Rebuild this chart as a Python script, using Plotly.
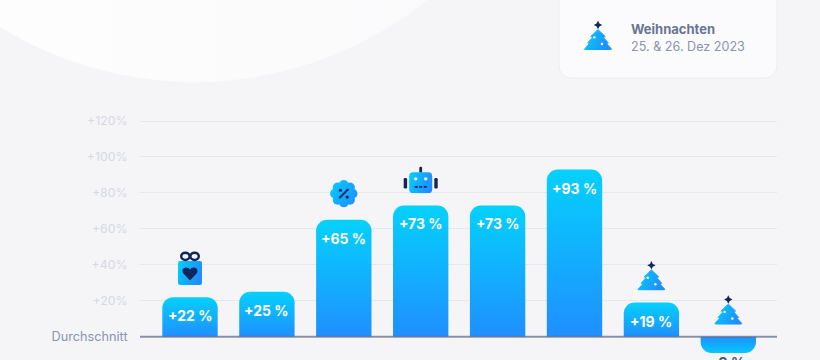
import base64
import plotly.graph_objects as go

categories = ["A", "B", "C", "D", "E", "F", "G", "H"]
values = [22, 25, 65, 73, 73, 93, 19, -9]
labels = ["+22 %", "+25 %", "+65 %", "+73 %", "+73 %", "+93 %", "+19 %", "-9 %"]
icons = ["gift", None, "badge", "robot", None, None, "tree", "tree"]
tick_vals = [0, 20, 40, 60, 80, 100, 120]
tick_text = ["<span style='color:#8b93ae;font-size:12.7px'>Durchschnitt</span>", "+20%", "+40%", "+60%", "+80%", "+100%", "+120%"]
card_title = "Weihnachten"
card_sub = "25. & 26. Dez 2023"

BG = "#f5f5f8"
NAVY = "#13265c"
GRAD = ('<defs><linearGradient id="g" x1="0" y1="0" x2="1" y2="0.35">'
        '<stop offset="0" stop-color="#02d0fd"/><stop offset="1" stop-color="#1f8fff"/>'
        '</linearGradient></defs>')


def svg_uri(body, w=36, h=36):
    s = (f'<svg xmlns="http://www.w3.org/2000/svg" width="{w}" height="{h}" '
         f'viewBox="0 0 {w} {h}">{body}</svg>')
    return "data:image/svg+xml;base64," + base64.b64encode(s.encode()).decode()


TREE = GRAD + (
    f'<path d="M18 6.8 L19.4 9.6 L22.2 11 L19.4 12.4 L18 15.2 L16.6 12.4 L13.8 11 L16.6 9.6 Z" fill="{NAVY}"/>'
    '<path d="M18 15.5 L25.4 22.6 L23.4 23.2 L28.4 29 L26.6 29.6 L31.2 34.6 Q31.8 36 30.2 36 L5.8 36 '
    'Q4.2 36 4.8 34.6 L9.4 29.6 L7.6 29 L12.6 23.2 L10.6 22.6 Z" fill="url(#g)" stroke="url(#g)" '
    'stroke-width="0.8" stroke-linejoin="round"/>'
    '<circle cx="14.3" cy="23.4" r="1.2" fill="#fff"/><circle cx="22" cy="30" r="1.2" fill="#fff"/>'
)
GIFT = GRAD + (
    '<rect x="6" y="12" width="24" height="24" rx="2" fill="url(#g)"/>'
    f'<ellipse cx="13.4" cy="7.4" rx="4.2" ry="3.6" fill="none" stroke="{NAVY}" stroke-width="2.4"/>'
    f'<ellipse cx="22.6" cy="7.4" rx="4.2" ry="3.6" fill="none" stroke="{NAVY}" stroke-width="2.4"/>'
    f'<path d="M18 31.5 L11.4 24.6 C9.4 22 11 18.6 14 18.6 C15.8 18.6 17.2 19.4 18 20.8 '
    f'C18.8 19.4 20.2 18.6 22 18.6 C25 18.6 26.6 22 24.6 24.6 Z" fill="{NAVY}"/>'
)
_lobes = "".join(
    f'<circle cx="{18 + dx}" cy="{22 + dy}" r="4.9" fill="url(#b)"/>'
    for dx, dy in [(0, -8.8), (6.2, -6.2), (8.8, 0), (6.2, 6.2), (0, 8.8), (-6.2, 6.2), (-8.8, 0), (-6.2, -6.2)]
)
BADGE = ('<defs><linearGradient id="b" gradientUnits="userSpaceOnUse" x1="4" y1="10" x2="32" y2="30">'
         '<stop offset="0" stop-color="#02d0fd"/><stop offset="1" stop-color="#1f8fff"/></linearGradient></defs>'
         + _lobes + '<circle cx="18" cy="22" r="10" fill="url(#b)"/>'
         + f'<path d="M22 18 L14 26" stroke="{NAVY}" stroke-width="2" stroke-linecap="round"/>'
         + f'<circle cx="14.6" cy="18.6" r="1.6" fill="{NAVY}"/><circle cx="21.4" cy="25.4" r="1.6" fill="{NAVY}"/>')
ROBOT = GRAD + (
    f'<rect x="16.6" y="9.5" width="2.8" height="6" rx="1.2" fill="{NAVY}"/>'
    f'<rect x="1" y="20.7" width="3.4" height="10.6" rx="1.2" fill="{NAVY}"/>'
    f'<rect x="31.6" y="20.7" width="3.4" height="10.6" rx="1.2" fill="{NAVY}"/>'
    '<rect x="6.5" y="15" width="23" height="21" rx="4" fill="url(#g)"/>'
    '<circle cx="13" cy="21.6" r="1.7" fill="#fff"/><circle cx="23" cy="21.6" r="1.7" fill="#fff"/>'
    f'<path d="M12 29.6 H24" stroke="{NAVY}" stroke-width="1.8" stroke-dasharray="3 1.5"/>'
)
ICONS = {"tree": TREE, "gift": GIFT, "badge": BADGE, "robot": ROBOT}

# plot geometry
W, H = 820, 360
L, R, T = 140, 43, 100
x_step = 76.9
px_per_unit = 1.7975
y0_px = 336.7
x_range = [-(190 - L) / x_step, (W - R - 190) / x_step]
y_range = [-(H - y0_px) / px_per_unit, (y0_px - T) / px_per_unit]
PW = W - L - R
PH = H - T

background = (
    '<defs><linearGradient id="w" x1="0" y1="0" x2="1" y2="0">'
    '<stop offset="0" stop-color="#ffffff"/><stop offset="1" stop-color="#f9f9fb"/></linearGradient></defs>'
    '<circle cx="194.5" cy="-289" r="371" fill="url(#w)"/>'
    '<rect x="559" y="-20" width="218" height="98" rx="12" fill="#fbfbfd" stroke="#ecedf2" stroke-width="1"/>'
)

images = [dict(source=svg_uri(background, W, H), xref="paper", yref="paper",
               x=-L / PW, y=(PH + T) / PH, sizex=W / PW, sizey=H / PH,
               xanchor="left", yanchor="top", sizing="stretch", layer="below")]
for i, (v, name) in enumerate(zip(values, icons)):
    if name:
        images.append(dict(source=svg_uri(ICONS[name]), xref="x", yref="y",
                           x=i, y=max(v, 0) + 6.8, sizex=36 / x_step, sizey=36 / px_per_unit,
                           xanchor="center", yanchor="bottom", sizing="stretch", layer="above"))
# card icon
images.append(dict(source=svg_uri(TREE), xref="paper", yref="paper",
                   x=(598 - L) / PW, y=(H - 50) / PH, sizex=36 / PW, sizey=36 / PH,
                   xanchor="center", yanchor="bottom", sizing="stretch", layer="above"))

FONT = "Inter, 'Noto Sans', sans-serif"
annotations = []
for i, (v, t) in enumerate(zip(values, labels)):
    if v >= 0:
        annotations.append(dict(x=i, y=v, xref="x", yref="y", text=f"<b>{t}</b>", showarrow=False,
                                yanchor="middle", yshift=-18.5,
                                font=dict(family=FONT, size=14, color="#ffffff")))
    else:
        annotations.append(dict(x=i, y=v, xref="x", yref="y", text=f"<b>{t}</b>", showarrow=False,
                                yanchor="middle", yshift=-9.5,
                                font=dict(family=FONT, size=14, color="#4a5272")))
annotations.append(dict(x=(631 - L) / PW, y=(H - 29) / PH, xref="paper", yref="paper", text=f"<b>{card_title}</b>",
                        showarrow=False, xanchor="left", yanchor="middle", xshift=-2,
                        font=dict(family=FONT, size=13, color="#6a7493")))
annotations.append(dict(x=(631 - L) / PW, y=(H - 46) / PH, xref="paper", yref="paper", text=card_sub,
                        showarrow=False, xanchor="left", yanchor="middle", xshift=-2,
                        font=dict(family=FONT, size=12.6, color="#8b93ae")))

fig = go.Figure(go.Bar(x=list(range(len(categories))), y=values, width=0.72,
                       marker=dict(color="#14b0ff", line_width=0, cornerradius=11),
                       hoverinfo="skip"))
fig.update_layout(
    width=W, height=H, autosize=False, showlegend=False,
    margin=dict(l=L, r=R, t=T, b=0, pad=0),
    paper_bgcolor=BG, plot_bgcolor="rgba(0,0,0,0)",
    xaxis=dict(range=x_range, visible=False, fixedrange=True),
    yaxis=dict(range=y_range, tickmode="array", tickvals=tick_vals, ticktext=tick_text,
               showgrid=True, gridcolor="#e6e7ed", gridwidth=1, zeroline=False, showline=False,
               ticks="outside", ticklen=9, tickcolor="rgba(0,0,0,0)",
               tickfont=dict(family=FONT, size=12.3, color="#d6d8e3"), fixedrange=True),
    images=images, annotations=annotations,
    shapes=[dict(type="line", xref="paper", yref="y", x0=0, x1=1, y0=0, y1=0, layer="above",
                 line=dict(color="rgba(98,108,140,0.72)", width=2))],
)

post = """
document.documentElement.style.background='%s';
document.body.style.margin='0';document.body.style.overflow='hidden';
var gd=document.getElementById('{plot_id}');
var svg=gd.querySelector('.main-svg');
var ns='http://www.w3.org/2000/svg';
var defs=svg.querySelector('defs');
function mk(id,a,b){var g=document.createElementNS(ns,'linearGradient');g.setAttribute('id',id);
 g.setAttribute('x1','0');g.setAttribute('y1','0');g.setAttribute('x2','0');g.setAttribute('y2','1');
 [[0,a],[1,b]].forEach(function(s){var t=document.createElementNS(ns,'stop');t.setAttribute('offset',s[0]);
 t.setAttribute('stop-color',s[1]);g.appendChild(t);});defs.appendChild(g);}
mk('barUp','#05d1fc','#1f8fff');mk('barDown','#1f8fff','#05c8ff');
gd.querySelectorAll('.bars .point path').forEach(function(p,i){
 p.style.fill=(gd.data[0].y[i]<0)?'url(#barDown)':'url(#barUp)';});
""" % BG

fig.write_html("out.html", post_script=post, config=dict(displayModeBar=False, staticPlot=True))
